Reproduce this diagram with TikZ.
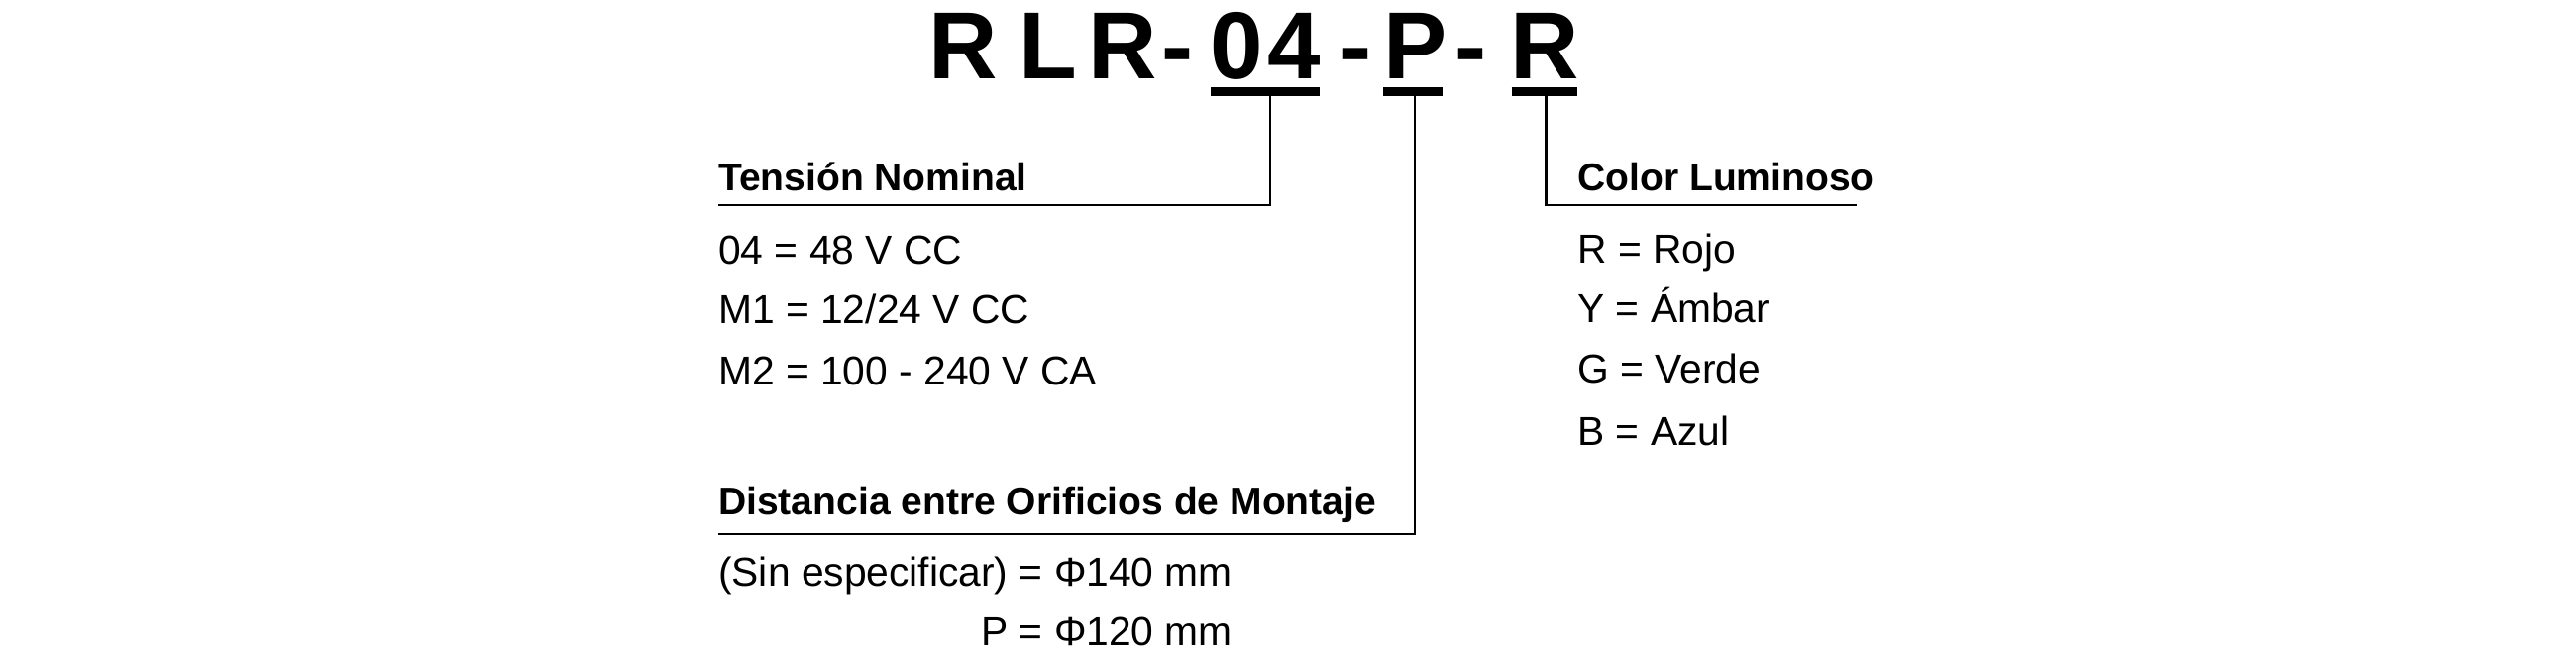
\documentclass[tikz,border=0pt]{standalone}
\usepackage{fontspec}
\setmainfont{Liberation Sans}
\usetikzlibrary{positioning}
\tikzset{
  code/.style={inner sep=0pt, anchor=base west, font=\fontsize{33}{36}\bfseries},
  head/.style={inner sep=0pt, anchor=base west, font=\fontsize{13.4}{16}\bfseries},
  item/.style={inner sep=0pt, anchor=base west, font=\fontsize{14}{16}\selectfont},
  uline/.style={line width=3pt},
  lead/.style={line width=0.8pt}
}
\begin{document}
\begin{tikzpicture}[x=0.02cm, y=-0.02cm]
\useasboundingbox (0,0) rectangle (1568,400);

% Code
\node[code] (r1) at (565,48) {R};
\node[code] (l1) at (620,48) {L};
\node[code] (r2) at (662,48) {R};
\node[code] (h1) at (707,48) {-};
\node[code] (v0) at (736,48) {0};
\node[code] (v4) at (771,48) {4};
\node[code] (h2) at (815,48) {-};
\node[code] (dist) at (842,48) {P};
\node[code] (h3) at (885,48) {-};
\node[code] (col) at (919,48) {R};

% Underlines
\draw[uline] (737,56) -- (803,56);
\draw[uline] (842,56) -- (878,56);
\draw[uline] (920,56) -- (960,56);
\coordinate (vTop) at (773,56);
\coordinate (dTop) at (861,56);
\coordinate (cTop) at (941,56);

% Tension nominal
\node[head] (voltH) at (437,116) {Tensión Nominal};
\coordinate (voltL) at (437,125);
\node[item] (v1) at (437,161) {04 = 48 V CC};
\node[item] (v2) at (437,197) {M1 = 12/24 V CC};
\node[item] (v3) at (437,234) {M2 = 100 - 240 V CA};

% Distancia
\node[head] (distH) at (437,313) {Distancia entre Orificios de Montaje};
\coordinate (distL) at (437,325);
\node[item] (d1) at (437,357) {(Sin especificar) = Φ140 mm};
\node[item, anchor=base east] (d2) at (d1.base east |- 0,393) {P = Φ120 mm};

% Color
\node[head] (colH) at (960,116) {Color Luminoso};
\coordinate (colL) at (1130,125);
\node[item] (c1) at (960,160) {R = Rojo};
\node[item] (c2) at (960,196) {Y = Ámbar};
\node[item] (c3) at (960,233) {G = Verde};
\node[item] (c4) at (960,271) {B = Azul};

% Leaders
\draw[lead] (vTop) |- (voltL);
\draw[lead] (dTop) |- (distL);
\draw[lead] (cTop) |- (colL);
\end{tikzpicture}
\end{document}
